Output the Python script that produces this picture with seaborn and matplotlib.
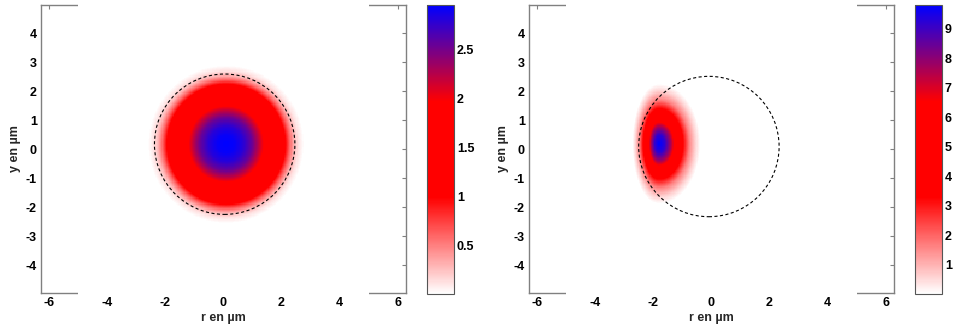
"""Intensity maps of two guided modes (white-red-blue) with the core outline."""

import matplotlib

matplotlib.use("Agg")
import matplotlib.pyplot as plt
import numpy as np
import pandas as pd
import seaborn as sns
from matplotlib.colors import LinearSegmentedColormap
from matplotlib.patches import Circle

# Sampling grid of the maps (µm); the image covers -5..5 in x and y
grid = np.linspace(-5, 5, 241)

# Left map: radial intensity profile
mode1_center = (0.09, 0.17)
mode1_r = [0.0, 0.3, 0.6, 0.9, 1.15, 1.3, 1.7, 2.05, 2.2, 2.35, 2.5, 2.7]
mode1_I = [2.96, 2.93, 2.8, 2.55, 2.2, 1.97, 1.5, 1.0, 0.6, 0.3, 0.12, 0.0]
mode1_vmax = 2.96
core1_center = (0.04, 0.17)
core1_radius = 2.42

# Right map: off-centre lobe, profile vs. normalised elliptical radius
mode2_center = (-1.82, 0.18)
mode2_rho = [0.0, 0.3, 0.6, 0.9, 1.2, 1.5, 1.8, 2.05]
mode2_I = [9.8, 9.2, 7.6, 5.3, 3.3, 1.6, 0.6, 0.0]
mode2_scale_left = 0.45
mode2_scale_right = 0.7
mode2_scale_y = 1.0
mode2_vmax = 9.8
core2_center = (-0.09, 0.09)
core2_radius = 2.42

cbar1_ticks = [0.5, 1, 1.5, 2, 2.5]
cbar2_ticks = [1, 2, 3, 4, 5, 6, 7, 8, 9]
x_ticks = [-6, -4, -2, 0, 2, 4, 6]
y_ticks = [-4, -3, -2, -1, 0, 1, 2, 3, 4]
x_label = "r en µm"
y_label = "y en µm"


def build_maps():
    X, Y = np.meshgrid(grid, grid[::-1])
    r1 = np.hypot(X - mode1_center[0], Y - mode1_center[1])
    field1 = np.interp(r1, mode1_r, mode1_I)

    dx = X - mode2_center[0]
    sx = np.where(dx < 0, mode2_scale_left, mode2_scale_right)
    rho = np.hypot(dx / sx, (Y - mode2_center[1]) / mode2_scale_y)
    field2 = np.interp(rho, mode2_rho, mode2_I)

    to_df = lambda f: pd.DataFrame(f, index=grid[::-1], columns=grid)
    return to_df(field1), to_df(field2)


def plot_panel(fig, df, ax_px, cbar_px, vmax, ticks, core_center, core_radius, cmap):
    W, H = 954, 334
    xlim, ylim = (-6.29, 6.29), (-4.96, 4.97)

    def rect(px):
        l, t, w, h = px
        return [l / W, (H - t - h) / H, w / W, h / H]

    ax_rect = rect(ax_px)
    ax = fig.add_axes(ax_rect)
    ax.set_xlim(*xlim)
    ax.set_ylim(*ylim)
    ax.set_xticks(x_ticks)
    ax.set_yticks(y_ticks)
    ax.tick_params(direction="in", top=True, right=True, length=3, width=0.8,
                   color="#808080", labelcolor="black", labelsize=9, pad=3)
    for s in ax.spines.values():
        s.set_color("#808080")
        s.set_linewidth(1.0)
        s.set_visible(True)
    ax.set_xlabel(x_label, fontsize=9, labelpad=2)
    ax.set_ylabel(y_label, fontsize=9, labelpad=3)

    # image axes placed over data range -5..5 of the frame axes,
    # a touch taller so it hides the frame's top and bottom edges
    l, b, w, h = ax_rect
    fx = lambda x: l + (x - xlim[0]) / (xlim[1] - xlim[0]) * w
    fy = lambda y: b + (y - ylim[0]) / (ylim[1] - ylim[0]) * h
    pad = 2.0 / H
    hax = fig.add_axes([fx(-5), fy(-5) - pad, fx(5) - fx(-5), fy(5) - fy(-5) + 2 * pad])
    cax = fig.add_axes(rect(cbar_px))

    sns.heatmap(df, ax=hax, cmap=cmap, vmin=0, vmax=vmax, cbar_ax=cax,
                xticklabels=False, yticklabels=False,
                cbar_kws={"ticks": ticks}, rasterized=True)
    hax.set_axis_off()

    hax.add_patch(Circle(core_center, core_radius, transform=ax.transData,
                         fill=False, color="black", lw=0.8, ls=(0, (2.8, 2.2))))

    cb = hax.collections[0].colorbar
    cb.outline.set_linewidth(0.8)
    cb.outline.set_edgecolor("#555555")
    cax.tick_params(direction="in", length=3, width=0.8, color="#555555",
                    labelcolor="black", labelsize=9, pad=2)
    cb.set_ticklabels([f"{t:g}" for t in ticks])


if __name__ == "__main__":
    sns.set_style("white")
    plt.rcParams["font.family"] = ["Liberation Sans", "DejaVu Sans"]
    plt.rcParams["font.weight"] = "bold"
    plt.rcParams["axes.labelweight"] = "bold"
    plt.rcParams["axes.unicode_minus"] = False

    cmap = LinearSegmentedColormap.from_list(
        "wrb", [(0, "white"), (1 / 3, "red"), (2 / 3, "red"), (1, "blue")]
    )
    df1, df2 = build_maps()

    fig = plt.figure(figsize=(9.54, 3.34), dpi=100)
    plot_panel(fig, df1, (41, 5, 365, 288), (427, 5, 27, 289), mode1_vmax,
               cbar1_ticks, core1_center, core1_radius, cmap)
    plot_panel(fig, df2, (529, 5, 365, 288), (915, 5, 27, 289), mode2_vmax,
               cbar2_ticks, core2_center, core2_radius, cmap)

    fig.savefig("out.png", dpi=100)
